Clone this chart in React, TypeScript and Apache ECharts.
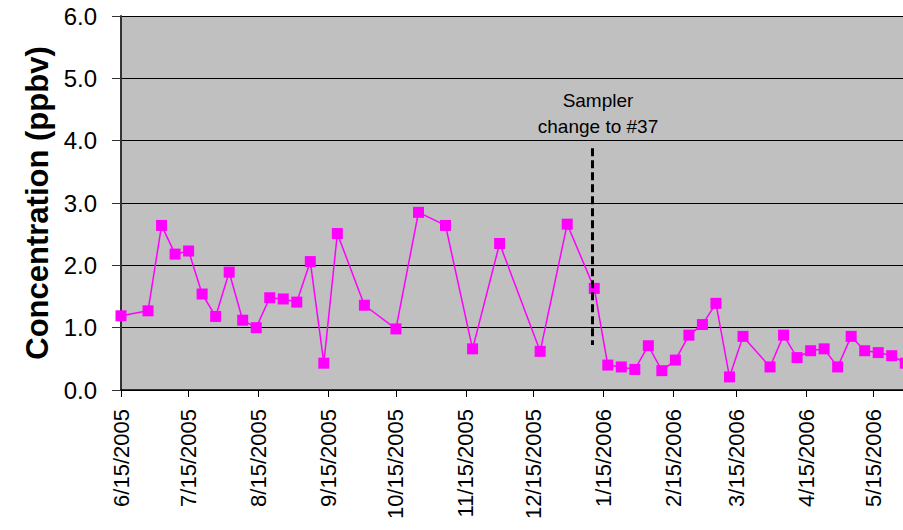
import React, { useEffect, useRef } from "react";
import * as echarts from "echarts";

// Sampling dates (every ~6 days) and measured concentrations (ppbv)
const sampleDates = [
  "2005-06-15", "2005-06-27", "2005-07-03", "2005-07-09", "2005-07-15", "2005-07-21",
  "2005-07-27", "2005-08-02", "2005-08-08", "2005-08-14", "2005-08-20", "2005-08-26",
  "2005-09-01", "2005-09-07", "2005-09-13", "2005-09-19", "2005-10-01", "2005-10-15",
  "2005-10-25", "2005-11-06", "2005-11-18", "2005-11-30", "2005-12-18", "2005-12-30",
  "2006-01-11", "2006-01-17", "2006-01-23", "2006-01-29", "2006-02-04", "2006-02-10",
  "2006-02-16", "2006-02-22", "2006-02-28", "2006-03-06", "2006-03-12", "2006-03-18",
  "2006-03-30", "2006-04-05", "2006-04-11", "2006-04-17", "2006-04-23", "2006-04-29",
  "2006-05-05", "2006-05-11", "2006-05-17", "2006-05-23", "2006-05-29",
];

const concentrations = [
  1.19, 1.27, 2.64, 2.18, 2.23, 1.54,
  1.18, 1.89, 1.12, 1.0, 1.48, 1.46,
  1.41, 2.06, 0.43, 2.51, 1.36, 0.98,
  2.85, 2.64, 0.66, 2.35, 0.62, 2.66,
  1.63, 0.4, 0.37, 0.33, 0.71, 0.31,
  0.48, 0.88, 1.05, 1.39, 0.21, 0.86,
  0.37, 0.88, 0.52, 0.63, 0.66, 0.37,
  0.86, 0.63, 0.6, 0.55, 0.43,
];

// Month ticks on the 15th
const tickDates = [
  "2005-06-15", "2005-07-15", "2005-08-15", "2005-09-15", "2005-10-15", "2005-11-15",
  "2005-12-15", "2006-01-15", "2006-02-15", "2006-03-15", "2006-04-15", "2006-05-15",
];

const axisStart = "2005-06-15";
const axisEnd = "2006-05-28";

// Sampler change marker
const samplerChangeDate = "2006-01-10";
const samplerLineRange = [3.88, 0.72];
const samplerNote = ["Sampler", "change to #37"];

const DAY = 86400000;
const originUtc = Date.UTC(2005, 5, 15);

// Dates are plotted as day numbers counted from the first sample
const toDay = (s: string) => {
  const [y, m, d] = s.split("-").map(Number);
  return Math.round((Date.UTC(y, m - 1, d) - originUtc) / DAY);
};

const fmtDay = (n: number) => {
  const d = new Date(originUtc + Math.round(n) * DAY);
  return `${d.getUTCMonth() + 1}/${d.getUTCDate()}/${d.getUTCFullYear()}`;
};

export default function App() {
  const ref = useRef<HTMLDivElement>(null);

  useEffect(() => {
    if (!ref.current) return;
    const chart = echarts.init(ref.current, null, { renderer: "svg" });
    const font = "Arial, 'Liberation Sans', sans-serif";
    const ticks = tickDates.map(toDay);
    const changeX = toDay(samplerChangeDate);

    chart.setOption({
      animation: false,
      backgroundColor: "#ffffff",
      grid: {
        left: 121,
        right: 0,
        top: 16,
        bottom: 140,
        show: true,
        backgroundColor: "#C0C0C0",
        borderWidth: 0,
        containLabel: false,
      },
      xAxis: {
        type: "value",
        min: toDay(axisStart),
        max: toDay(axisEnd),
        splitLine: { show: false },
        axisLine: { show: true, lineStyle: { color: "#000", width: 1.5 } },
        axisTick: {
          show: true,
          customValues: ticks,
          length: 7,
          lineStyle: { color: "#000", width: 1 },
        },
        axisLabel: {
          customValues: ticks,
          rotate: 90,
          margin: 19,
          color: "#000",
          fontFamily: font,
          fontSize: 22,
          showMinLabel: true,
          showMaxLabel: true,
          formatter: (v: number) => fmtDay(v),
        },
      },
      yAxis: {
        type: "value",
        min: 0,
        max: 6,
        interval: 1,
        name: "Concentration (ppbv)",
        nameLocation: "middle",
        nameRotate: 90,
        nameGap: 68,
        nameTextStyle: {
          fontFamily: font,
          fontSize: 31,
          fontWeight: "bold",
          color: "#000",
        },
        axisLine: { show: true, lineStyle: { color: "#333", width: 2 } },
        axisTick: { show: true, length: 9, lineStyle: { color: "#333", width: 1 } },
        axisLabel: {
          margin: 24,
          color: "#000",
          fontFamily: font,
          fontSize: 24,
          formatter: (v: number) => v.toFixed(1),
        },
        splitLine: { show: true, lineStyle: { color: "#000", width: 1 } },
      },
      series: [
        {
          type: "line",
          data: sampleDates.map((d, i) => [toDay(d), concentrations[i]]),
          symbol: "rect",
          symbolSize: 11,
          clip: false,
          itemStyle: { color: "#FF00FF" },
          lineStyle: { color: "#FF00FF", width: 1.5 },
          markLine: {
            silent: true,
            symbol: "none",
            label: { show: false },
            lineStyle: { color: "#000", width: 3, type: [8, 4] },
            data: [
              [
                { coord: [changeX, samplerLineRange[0]] },
                { coord: [changeX, samplerLineRange[1]] },
              ],
            ],
          },
        },
      ],
      graphic: [
        {
          type: "text",
          x: 598,
          y: 100,
          style: {
            text: samplerNote[0],
            fontFamily: font,
            fontSize: 19,
            fill: "#000",
            align: "center",
            verticalAlign: "middle",
          },
        },
        {
          type: "text",
          x: 598,
          y: 126,
          style: {
            text: samplerNote[1],
            fontFamily: font,
            fontSize: 19,
            fill: "#000",
            align: "center",
            verticalAlign: "middle",
          },
        },
      ],
    });

    return () => chart.dispose();
  }, []);

  return (
    <div
      ref={ref}
      style={{ position: "fixed", left: 0, top: 0, width: 903, height: 530 }}
    />
  );
}
